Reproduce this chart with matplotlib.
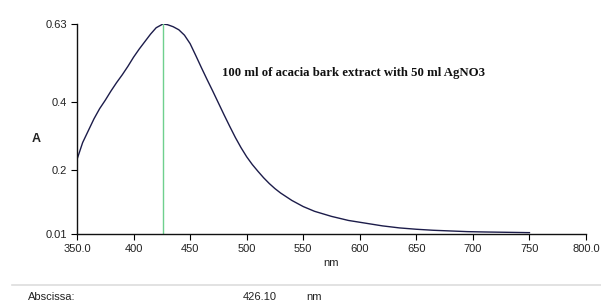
import matplotlib
matplotlib.use("Agg")
import matplotlib.pyplot as plt
from matplotlib.lines import Line2D

wavelength = [350, 355, 360, 365, 370, 375, 380, 385, 390, 395, 400, 405, 410, 415, 420,
              426, 430, 435, 440, 445, 450, 455, 460, 465, 470, 475, 480, 485, 490, 495,
              500, 505, 510, 515, 520, 525, 530, 540, 550, 560, 575, 590, 605, 620, 635,
              650, 665, 680, 695, 710, 730, 750]
absorbance = [0.23, 0.28, 0.315, 0.35, 0.38, 0.405, 0.432, 0.457, 0.48, 0.505, 0.532, 0.556,
              0.578, 0.6, 0.619, 0.63, 0.628, 0.622, 0.613, 0.597, 0.572, 0.537, 0.501,
              0.466, 0.432, 0.397, 0.362, 0.328, 0.295, 0.265, 0.238, 0.215, 0.195, 0.176,
              0.159, 0.144, 0.131, 0.109, 0.091, 0.077, 0.062, 0.05, 0.042, 0.034, 0.028,
              0.024, 0.021, 0.019, 0.017, 0.016, 0.015, 0.014]
peak_nm = 426.10
peak_abs = 0.63

xticks = [350, 400, 450, 500, 550, 600, 650, 700, 750, 800]
xticklabels = ["350.0", "400", "450", "500", "550", "600", "650", "700", "750", "800.0"]
yticks = [0.01, 0.2, 0.4, 0.63]
yticklabels = ["0.01", "0.2", "0.4", "0.63"]

W, H = 601, 306
fig = plt.figure(figsize=(W / 100, H / 100), dpi=100)
fig.patch.set_facecolor("white")
ax = fig.add_axes([77 / W, 1 - 234 / H, (586 - 77) / W, (234 - 24) / H])

ax.plot(wavelength, absorbance, color="#1c1c4a", lw=1.0)
ax.plot([peak_nm, peak_nm], [0.01, peak_abs], color="#6fd08e", lw=1.0)

ax.set_xlim(350, 800)
ax.set_ylim(0.01, 0.63)
ax.set_xticks(xticks)
ax.set_xticklabels(xticklabels, fontsize=8, family="Liberation Sans", color="#222222")
ax.set_yticks(yticks)
ax.set_yticklabels(yticklabels, fontsize=8, family="Liberation Sans", color="#222222")
ax.tick_params(direction="out", length=4, width=0.8, pad=3)
for s in ["top", "right"]:
    ax.spines[s].set_visible(False)
for s in ["left", "bottom"]:
    ax.spines[s].set_linewidth(1.0)
    ax.spines[s].set_color("#111111")

ax.set_xlabel("nm", fontsize=8, family="Liberation Sans", color="#222222", labelpad=3)
fig.text(36 / W, 1 - 139 / H, "A", fontsize=9, family="Liberation Sans",
         fontweight="bold", ha="center", va="center", color="#222222")

ax.text(222 / W, 1 - 73 / H, "100 ml of acacia bark extract with 50 ml AgNO3",
        transform=fig.transFigure, fontsize=9.2, family="Liberation Serif",
        fontweight="bold", ha="left", va="center", color="#111111")

fig.add_artist(Line2D([12 / W, 1.0], [1 - 285 / H, 1 - 285 / H],
                      transform=fig.transFigure, color="#dddddd", lw=1.2))
fig.text(28 / W, 1 - 297 / H, "Abscissa:", fontsize=8, family="Liberation Sans",
         ha="left", va="center", color="#222222")
fig.text(243 / W, 1 - 297 / H, f"{peak_nm:.2f}", fontsize=8, family="Liberation Sans",
         ha="left", va="center", color="#222222")
fig.text(306 / W, 1 - 297 / H, "nm", fontsize=8, family="Liberation Sans",
         ha="left", va="center", color="#222222")

fig.savefig("out.png", dpi=100)
